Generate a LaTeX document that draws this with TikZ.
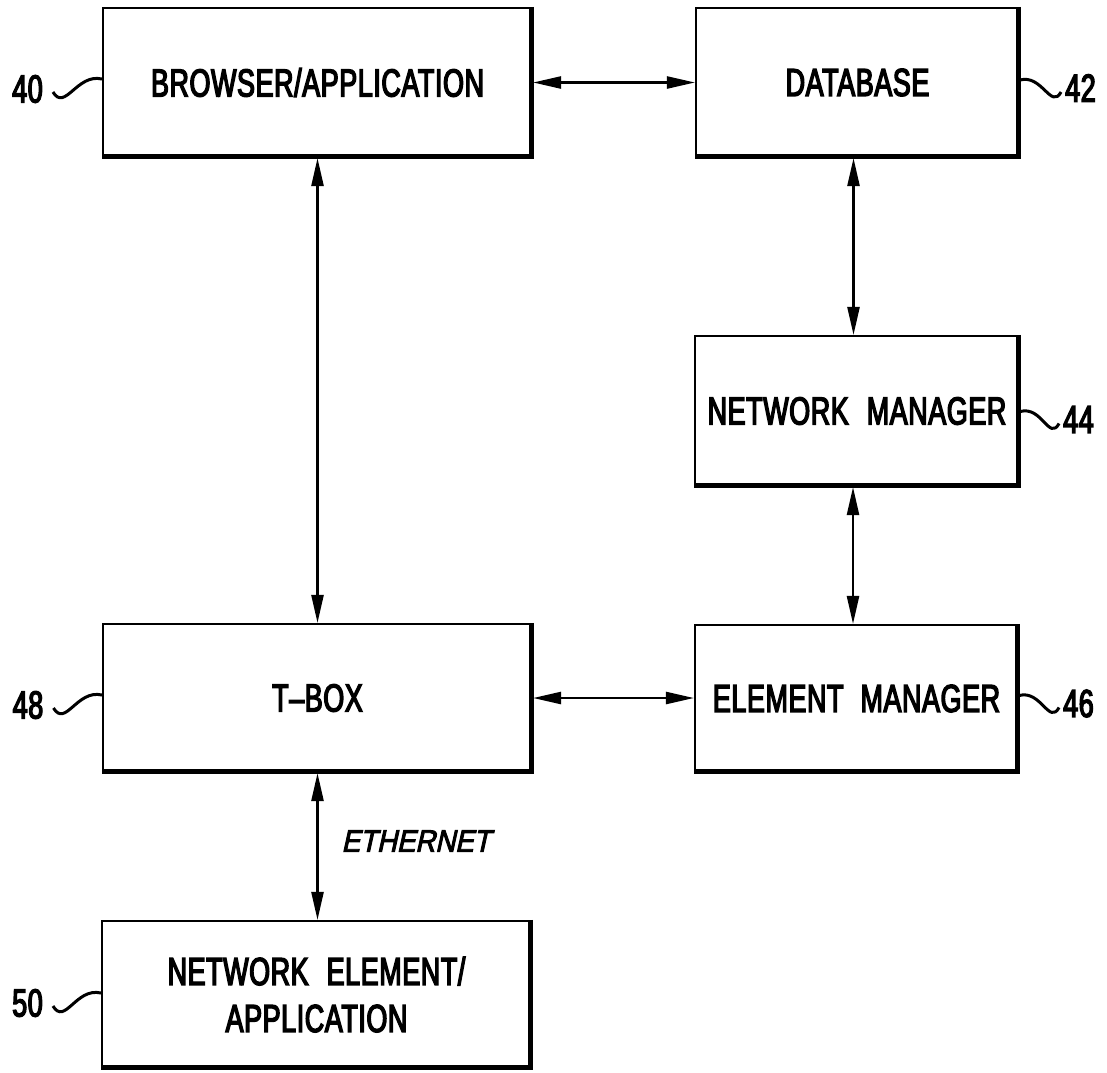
\documentclass[tikz,border=0pt]{standalone}
\usepackage{fontspec}
\newfontfamily\pf[FakeStretch=0.69,FakeBold=3.5,LetterSpace=1.5]{Liberation Sans}
\newfontfamily\pfi[FakeStretch=0.9,FakeSlant=0.22,FakeBold=3]{Liberation Sans}
\usetikzlibrary{arrows.meta,calc}
\newcommand\shedge[1]{\draw[thk] ($(#1.north east)+(-1.5,0)$) -- ($(#1.south east)+(-1.5,-1.5)$) -- ($(#1.south west)+(0,-1.5)$);}
\newcommand\lsquig[2]{\draw[sq] ($(#1.east)+(10,3)$) .. controls +(12,20) and +(-25,-6) .. ($(#2.west |- #1.center)+(0,-10)$);}
\newcommand\rsquig[2]{\draw[sq] ($(#2.east |- #1.center)+(0,-8)$) .. controls +(22,-6) and +(-10,18) .. ($(#1.west)+(-4,4)$);}
\begin{document}
\begin{tikzpicture}[x=1pt,y=-1pt,
  boxst/.style={draw, line width=2.1pt, inner sep=0pt, font=\fontsize{39}{47}\pf, align=center},
  thk/.style={line width=4.8pt, line join=miter},
  lab/.style={inner sep=0pt, font=\fontsize{39}{47}\pf},
  arr/.style={line width=2.4pt, {Triangle[length=28pt,width=12pt]}-{Triangle[length=28pt,width=12pt]}},
  sq/.style={line width=3pt}]
\useasboundingbox (0,0) rectangle (1107,1072);
% boxes
\node[boxst, minimum width=429pt, minimum height=149pt] (b40) at (317.5,82.5) {BROWSER/APPLICATION};
\node[boxst, minimum width=323pt, minimum height=149pt] (b42) at (857.5,82.5) {DATABASE};
\node[boxst, minimum width=324pt, minimum height=150pt] (b44) at (857,411) {NETWORK\hspace*{18pt}MANAGER};
\node[boxst, minimum width=323pt, minimum height=147pt] (b46) at (856.5,698.5) {ELEMENT\hspace*{17pt}MANAGER};
\node[boxst, minimum width=429pt, minimum height=148pt] (b48) at (317.5,698) {T–BOX};
\node[boxst, minimum width=429pt, minimum height=147pt] (b50) at (316.5,994.5) {\raisebox{-5pt}{\parbox{400pt}{\centering NETWORK\hspace*{18pt}ELEMENT/\\APPLICATION}}};
\shedge{b40}\shedge{b42}\shedge{b44}\shedge{b46}\shedge{b48}\shedge{b50}
% connectors
\draw[arr] (b40.east) -- (b42.west);
\draw[arr] (b48.east) -- (b48.east -| b46.west);
\draw[arr] (b40.south) -- (b48.north);
\draw[arr] ([xshift=-4pt]b42.south) -- ([xshift=-4pt]b42.south |- b44.north);
\draw[arr] ([xshift=-4pt]b44.south) -- ([xshift=-4pt]b44.south |- b46.north);
\draw[arr] (b48.south) -- (b48.south |- b50.north);
\node[inner sep=0pt, font=\fontsize{30.7}{36}\pfi] (eth) at (416,841) {ETHERNET};
% reference numerals
\node[lab] (l40) at (27.5,89) {40};
\node[lab] (l42) at (1080.5,88) {42};
\node[lab] (l44) at (1078.5,419.5) {44};
\node[lab] (l46) at (1078.5,703.5) {46};
\node[lab] (l48) at (28,705) {48};
\node[lab] (l50) at (27.5,1003) {50};
\lsquig{l40}{b40}
\lsquig{l48}{b48}
\lsquig{l50}{b50}
\rsquig{l42}{b42}
\rsquig{l44}{b44}
\rsquig{l46}{b46}
\end{tikzpicture}
\end{document}
